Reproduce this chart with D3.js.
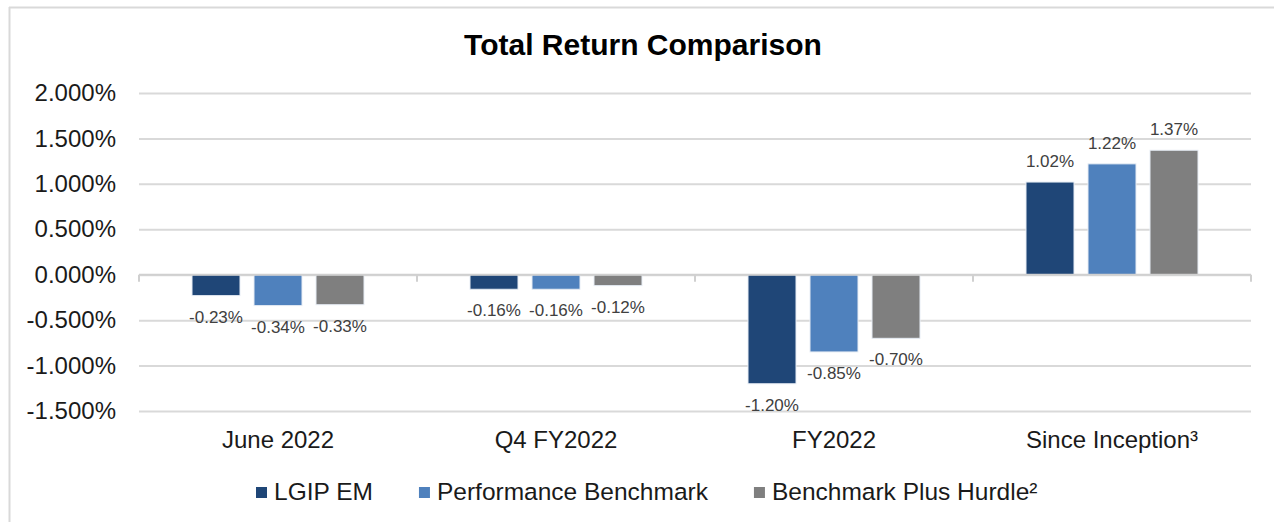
<!DOCTYPE html>
<html lang="en">
<head>
  <title>Total Return Comparison</title>
  <script src="https://cdn.jsdelivr.net/npm/d3@7"></script>
  <style>
    body { margin: 0; background: #fff; }
    text { font-family: "Liberation Sans", Arial, sans-serif; }
  </style>
</head>
<body>
  <script>
    // data
    let categories = ["June 2022", "Q4 FY2022", "FY2022", "Since Inception³"];
    let seriesNames = ["LGIP EM", "Performance Benchmark", "Benchmark Plus Hurdle²"];
    let lgipEM = [-0.23, -0.16, -1.20, 1.02];
    let perfBenchmark = [-0.34, -0.16, -0.85, 1.22];
    let plusHurdle = [-0.33, -0.12, -0.70, 1.37];
    let yTicks = [-1.5, -1.0, -0.5, 0, 0.5, 1.0, 1.5, 2.0];
    let colors = ["#1f4677", "#4f81bd", "#7f7f7f"];

    let svgWidth = 1274, svgHeight = 522;
    let plot = { left: 139, right: 1251, top: 93, bottom: 411 };

    let seriesValues = [lgipEM, perfBenchmark, plusHurdle];
    let data = [];
    categories.forEach((c, i) => {
      seriesNames.forEach((s, j) => {
        data.push({ cat: c, series: s, value: seriesValues[j][i] });
      });
    });

    let svg = d3.select("body").append("svg")
      .attr("width", svgWidth)
      .attr("height", svgHeight);

    // outer frame (top and left edges only visible)
    svg.append("line").attr("x1", 9).attr("x2", svgWidth).attr("y1", 7.5).attr("y2", 7.5)
      .attr("stroke", "#d9d9d9").attr("stroke-width", 2);
    svg.append("line").attr("x1", 9.5).attr("x2", 9.5).attr("y1", 7).attr("y2", svgHeight)
      .attr("stroke", "#d9d9d9").attr("stroke-width", 2);

    // scales
    let xScale = d3.scaleBand()
      .domain(categories)
      .range([plot.left, plot.right]);
    let xInner = d3.scaleBand()
      .domain(seriesNames)
      .range([0, xScale.bandwidth()])
      .paddingInner(0.226)
      .paddingOuter(0.855);
    let yScale = d3.scaleLinear()
      .domain([-1.5, 2.0])
      .range([plot.bottom, plot.top]);

    // gridlines + y labels
    let yAxis = d3.axisLeft(yScale)
      .tickValues(yTicks)
      .tickSize(-(plot.right - plot.left))
      .tickPadding(23)
      .tickFormat(d => d.toFixed(3) + "%");
    let yAxisG = svg.append("g")
      .attr("transform", `translate(${plot.left}, 0)`)
      .call(yAxis);
    yAxisG.select(".domain").remove();
    yAxisG.selectAll(".tick line")
      .attr("stroke", "#d9d9d9").attr("stroke-width", 2);
    yAxisG.selectAll(".tick text")
      .attr("font-size", 24)
      .attr("fill", "#1a1a1a")
      .attr("font-family", "Liberation Sans, Arial, sans-serif");

    // bars
    let barG = svg.append("g");
    barG.selectAll("rect").data(data).join("rect")
      .attr("x", d => xScale(d.cat) + xInner(d.series))
      .attr("width", xInner.bandwidth())
      .attr("y", d => yScale(Math.max(0, d.value)))
      .attr("height", d => Math.abs(yScale(d.value) - yScale(0)))
      .attr("fill", d => colors[seriesNames.indexOf(d.series)])
      .attr("stroke", "#e6ecf4")
      .attr("stroke-width", 1);

    // zero axis line with category ticks
    let zeroY = yScale(0);
    svg.append("line")
      .attr("x1", plot.left).attr("x2", plot.right)
      .attr("y1", zeroY).attr("y2", zeroY)
      .attr("stroke", "#d0d0d0").attr("stroke-width", 2);
    let boundaries = categories.map(c => xScale(c)).concat([plot.right]);
    svg.append("g").selectAll("line").data(boundaries).join("line")
      .attr("x1", d => d).attr("x2", d => d)
      .attr("y1", zeroY).attr("y2", zeroY + 7)
      .attr("stroke", "#d0d0d0").attr("stroke-width", 2);

    // value labels
    barG.selectAll("text").data(data).join("text")
      .attr("x", d => xScale(d.cat) + xInner(d.series) + xInner.bandwidth() / 2)
      .attr("y", d => d.value < 0 ? yScale(d.value) + 27 : yScale(d.value) - 15)
      .attr("text-anchor", "middle")
      .attr("font-size", 17)
      .attr("fill", "#404040")
      .text(d => d.value.toFixed(2) + "%");

    // category labels
    svg.append("g").selectAll("text").data(categories).join("text")
      .attr("x", d => xScale(d) + xScale.bandwidth() / 2)
      .attr("y", 448)
      .attr("text-anchor", "middle")
      .attr("font-size", 24)
      .attr("fill", "#1a1a1a")
      .text(d => d);

    // title
    svg.append("text")
      .attr("x", 643).attr("y", 55)
      .attr("text-anchor", "middle")
      .attr("font-size", 30)
      .attr("font-weight", "bold")
      .attr("fill", "#000")
      .text("Total Return Comparison");

    // legend
    let legend = svg.append("g");
    let lx = 256;
    seriesNames.forEach((s, i) => {
      legend.append("rect")
        .attr("x", lx).attr("y", 487)
        .attr("width", 11).attr("height", 11)
        .attr("fill", colors[i]);
      let t = legend.append("text")
        .attr("x", lx + 18).attr("y", 500)
        .attr("font-size", 24.5)
        .attr("fill", "#1a1a1a")
        .text(s);
      lx = lx + 18 + t.node().getComputedTextLength() + 46;
    });
  </script>
</body>
</html>
